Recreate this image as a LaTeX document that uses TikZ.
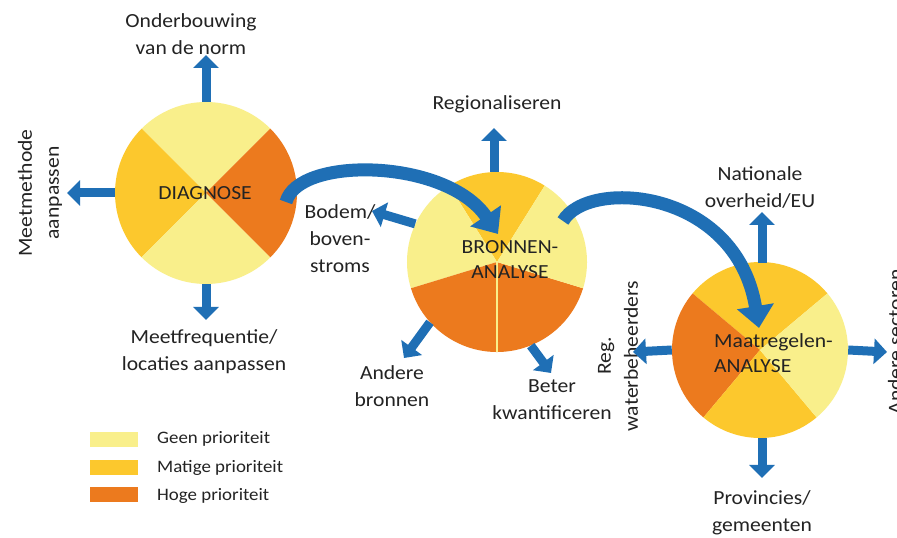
\documentclass[tikz,border=0pt]{standalone}
\usepackage{fontspec}
\setmainfont{Carlito}[FakeStretch=1.08]
\usetikzlibrary{arrows.meta}
\definecolor{geen}{RGB}{249,239,139}
\definecolor{matig}{RGB}{252,200,45}
\definecolor{hoog}{RGB}{236,122,30}
\definecolor{pijl}{RGB}{31,111,181}
\definecolor{tekst}{RGB}{35,35,35}
\begin{document}
\begin{tikzpicture}[x=1pt,y=1pt,
  lbl/.style={font=\fontsize{20}{27}\selectfont, text=tekst, align=center, inner sep=0},
  ctr/.style={font=\fontsize{20}{25}\selectfont, text=tekst, align=center, inner sep=0},
  leg/.style={font=\fontsize{17.5}{20}\selectfont, text=tekst, anchor=west, inner sep=0},
  swatch/.style={minimum width=48pt, minimum height=15pt, inner sep=0},
  blk/.style={draw=pijl, line width=9pt, -{Triangle[width=25pt,length=13pt]}},
  bendarrow/.style={draw=pijl, line width=13pt, -{Triangle[width=36pt,length=22pt]}},
  disc/.style={circle, inner sep=0, minimum size=#1},
]
\useasboundingbox (0,0) rectangle (897,538);
\fill[white] (0,0) rectangle (897,538);

% ---------- DIAGNOSE ----------
\node[disc=182pt] (diag) at (206,345) {};
\fill[geen]  (diag.center) -- ++(45:91)  arc[start angle=45, end angle=135, radius=91] -- cycle;
\fill[matig] (diag.center) -- ++(135:91) arc[start angle=135, end angle=225, radius=91] -- cycle;
\fill[geen]  (diag.center) -- ++(225:91) arc[start angle=225, end angle=315, radius=91] -- cycle;
\fill[hoog]  (diag.center) -- ++(-45:91) arc[start angle=-45, end angle=45, radius=91] -- cycle;

% ---------- BRONNEN ----------
\node[disc=180pt] (bron) at (497,276) {};
\fill[matig] (bron.center) -- ++(58:90)  arc[start angle=58, end angle=122, radius=90] -- cycle;
\fill[geen]  (bron.center) -- ++(122:90) arc[start angle=122, end angle=197, radius=90] -- cycle;
\fill[hoog]  (bron.center) -- ++(197:90) arc[start angle=197, end angle=343, radius=90] -- cycle;
\fill[geen]  (bron.center) -- ++(-17:90) arc[start angle=-17, end angle=58, radius=90] -- cycle;
\draw[geen, line width=1.2pt] (bron.center) -- (bron.south);

% ---------- MAATREGELEN ----------
\node[disc=176pt] (maat) at (760,188) {};
\fill[matig] (maat.center) -- ++(40:88)  arc[start angle=40, end angle=140, radius=88] -- cycle;
\fill[hoog]  (maat.center) -- ++(140:88) arc[start angle=140, end angle=230, radius=88] -- cycle;
\fill[matig] (maat.center) -- ++(230:88) arc[start angle=230, end angle=310, radius=88] -- cycle;
\fill[geen]  (maat.center) -- ++(-50:88) arc[start angle=-50, end angle=40, radius=88] -- cycle;

% ---------- labels ----------
\node[lbl] (onder) at (191,504) {Onderbouwing\\van de norm};
\node[lbl, rotate=90] (meetm) at (40,345) {Meetmethode\\aanpassen};
\node[lbl] (meetf) at (204,186) {Meetfrequentie/\\locaties aanpassen};
\node[lbl] (regio) at (497,434) {Regionaliseren};
\node[lbl] (bodem) at (340,299) {Bodem/\\boven-\\stroms};
\node[lbl] (andb) at (392,152) {Andere\\bronnen};
\node[lbl] (beter) at (552,138) {Beter\\kwantificeren};
\node[lbl] (natio) at (760,351) {Nationale\\overheid/EU};
\node[lbl, rotate=90] (regw) at (618,182) {Reg.\\waterbeheerders};
\node[lbl, rotate=90] (andsec) at (895,196) {Andere sectoren};
\node[lbl] (prov) at (762,25) {Provincies/\\gemeenten};

% ---------- arrow end points ----------
\coordinate (t1) at (206,483);
\coordinate (t2) at (67,345);
\coordinate (t3) at (206,218);
\coordinate (t4) at (494,410);
\coordinate (t5) at (372,327);
\coordinate (t6) at (404,180);
\coordinate (t7) at (551,165);
\coordinate (t8) at (762,326);
\coordinate (t9) at (633,186);
\coordinate (t10) at (887,186);
\coordinate (t11) at (762,60);

\draw[blk] (diag.north) -- (t1);
\draw[blk] (diag.west) -- (t2);
\draw[blk] (diag.south) -- (t3);
\draw[blk] (494,366) -- (t4);
\draw[blk] (bron.155) -- (t5);
\draw[blk] (bron.222) -- (t6);
\draw[blk] (bron.292) -- (t7);
\draw[blk] (762,275) -- (t8);
\draw[blk] (maat.west) -- (t9);
\draw[blk] (maat.east) -- (t10);
\draw[blk] (762,100) -- (t11);

% ---------- curved arrows ----------
\coordinate (c1s) at (286,336);
\coordinate (c1e) at (498,304);
\coordinate (c2s) at (563,317);
\coordinate (c2e) at (759,210);
\draw[bendarrow] (c1s) .. controls (298,382) and (446,380) .. (c1e);
\draw[bendarrow] (c2s) .. controls (588,360) and (736,350) .. (c2e);

% ---------- circle texts ----------
\node[ctr] (diagt) at (205,345) {DIAGNOSE};
\node[ctr] (biront) at (510,278) {BRONNEN-\\ANALYSE};
\node[ctr, align=left, anchor=west] (maatt) at (714,185) {Maatregelen-\\ANALYSE};

% ---------- legend ----------
\node[swatch, fill=geen]  (sw1) at (114,98.5) {};
\node[swatch, fill=matig] (sw2) at (114,70.5) {};
\node[swatch, fill=hoog]  (sw3) at (114,43.5) {};
\node[leg] (lt1) at (157,99) {Geen prioriteit};
\node[leg] (lt2) at (157,70) {Matige prioriteit};
\node[leg] (lt3) at (157,42) {Hoge prioriteit};
\end{tikzpicture}
\end{document}
